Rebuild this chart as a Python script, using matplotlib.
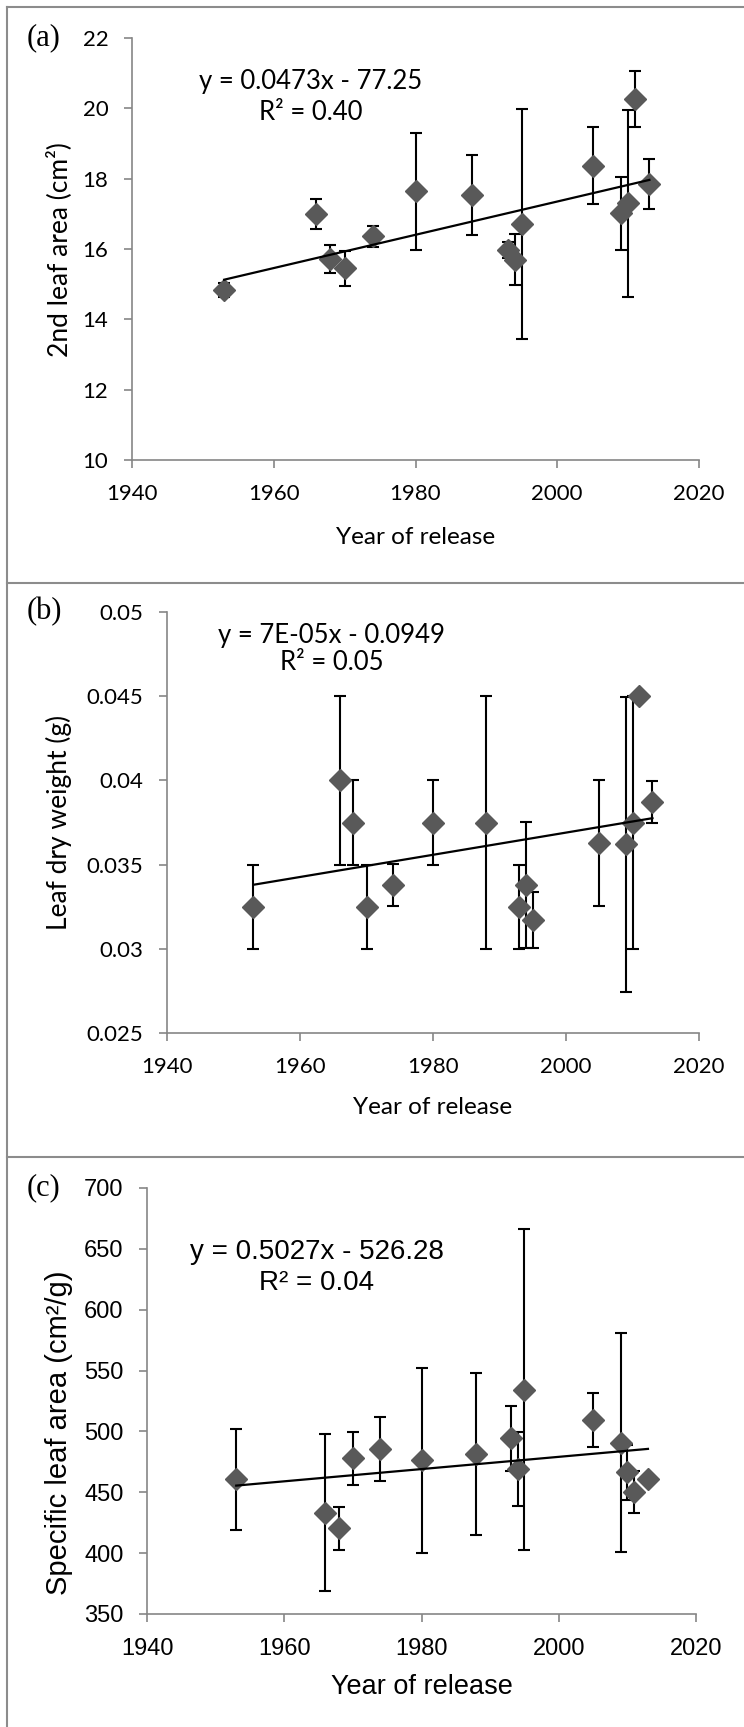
import matplotlib
matplotlib.use('Agg')
import matplotlib.pyplot as plt
from matplotlib.lines import Line2D
from matplotlib.ticker import FuncFormatter
import numpy as np

# cultivars by year of release
years = [1953, 1966, 1968, 1970, 1974, 1980, 1988, 1993, 1994, 1995,
         2005, 2009, 2010, 2011, 2013]

# (a) 2nd leaf area, cm2
leaf_area = [14.83, 17.0, 15.71, 15.45, 16.36, 17.64, 17.54, 15.97, 15.7, 16.7,
             18.37, 17.02, 17.3, 20.26, 17.85]
leaf_area_err = [0.2, 0.42, 0.39, 0.5, 0.3, 1.66, 1.13, 0.23, 0.73, 3.27,
                 1.09, 1.04, 2.66, 0.8, 0.71]

# (b) leaf dry weight, g
dry_weight = [0.0325, 0.04, 0.0375, 0.0325, 0.0338, 0.0375, 0.0375, 0.0325, 0.0338, 0.0317,
              0.0363, 0.0362, 0.0375, 0.045, 0.0387]
dry_weight_err = [0.0025, 0.005, 0.0025, 0.0025, 0.00125, 0.0025, 0.0075, 0.0025, 0.00375, 0.00167,
                  0.00375, 0.00875, 0.0075, 0.0, 0.00125]

# (c) specific leaf area, cm2/g
sla = [460.6, 433.3, 420.6, 477.8, 485.8, 476.2, 481.3, 494.2, 469.5, 534.2,
       509.3, 490.6, 466.3, 450.1, 460.6]
sla_err = [41.7, 64.7, 17.7, 21.8, 26.4, 76.0, 66.4, 26.7, 30.4, 131.8,
           22.1, 90.0, 22.4, 17.3, 3.0]

# linear trends (slope, intercept) and their labels
trends = [(0.0473, -77.25), (6.59e-05, -0.0949), (0.5027, -526.28)]
eq_labels = ['y = 0.0473x - 77.25', 'y = 7E-05x - 0.0949', 'y = 0.5027x - 526.28']
r2_labels = ['R² = 0.40', 'R² = 0.05', 'R² = 0.04']

ylabels = ['2nd leaf area (cm²)', 'Leaf dry weight (g)', 'Specific leaf area (cm²/g)']
tags = ['(a)', '(b)', '(c)']
xticks = [1940, 1960, 1980, 2000, 2020]
yticks = [np.arange(10, 23, 2),
          np.arange(0.025, 0.0501, 0.005),
          np.arange(350, 701, 50)]

W, H = 744, 1727
fig = plt.figure(figsize=(W / 100, H / 100), dpi=100)


def fx(x):
    return x / W


def fy(y):
    return 1 - y / H


# axes boxes in pixels: left, top, right, bottom
boxes = [(132, 38, 699, 460), (167, 612, 699, 1033), (147, 1188, 696, 1614)]
# text anchors in pixels: tag y, equation x/y, r2 y, xlabel y, ylabel y
text_pos = [(38, 311, 81, 112, 537, 250),
            (612, 332, 635, 662, 1108, 822),
            (1188, 317, 1252, 1283, 1687, 1433)]
fonts = [['Lato', 'DejaVu Sans'], ['Lato', 'DejaVu Sans'], ['Liberation Sans', 'DejaVu Sans']]
# font sizes: ticks, equation, x label, y label
sizes = [(16, 18.5, 17.5, 19), (16, 18.5, 17.5, 19), (17, 20, 19.5, 21)]

data = [(leaf_area, leaf_area_err), (dry_weight, dry_weight_err), (sla, sla_err)]
gray = '#868686'

for i in range(3):
    l, t, r, b = boxes[i]
    tick_fs, eq_fs, xl_fs, yl_fs = sizes[i]
    ax = fig.add_axes([fx(l), fy(b), (r - l) / W, (b - t) / H])
    vals, errs = data[i]
    ax.errorbar(years, vals, yerr=errs, fmt='D', color='#595959', ms=11.5,
                ecolor='black', elinewidth=1.5, capsize=4.5, capthick=1.5, zorder=2)
    slope, icpt = trends[i]
    xs = np.array([min(years), max(years)])
    ax.plot(xs, slope * xs + icpt, color='black', lw=1.6, zorder=3)

    ax.set_xlim(1940, 2020)
    ax.set_ylim(yticks[i][0], yticks[i][-1])
    ax.set_xticks(xticks)
    ax.set_yticks(yticks[i])
    ax.yaxis.set_major_formatter(FuncFormatter(lambda v, p: f'{v:g}'))
    for s in ['top', 'right']:
        ax.spines[s].set_visible(False)
    for s in ['left', 'bottom']:
        ax.spines[s].set_color(gray)
        ax.spines[s].set_linewidth(1.2)
    ax.tick_params(axis='both', direction='out', length=6, width=1.2, color=gray,
                   labelsize=tick_fs)
    ax.tick_params(axis='y', pad=11)
    ax.tick_params(axis='x', pad=11.5)
    for lab in ax.get_xticklabels() + ax.get_yticklabels():
        lab.set_family(fonts[i])

    ty, ex, ey, ry, xly, yly = text_pos[i]
    fig.text(fx(27), fy(ty), tags[i], family='Liberation Serif', fontsize=22,
             ha='left', va='center')
    fig.text(fx(ex), fy(ey), eq_labels[i], family=fonts[i], fontsize=eq_fs,
             ha='center', va='center')
    fig.text(fx(ex), fy(ry), r2_labels[i], family=fonts[i], fontsize=eq_fs,
             ha='center', va='center')
    fig.text(fx((l + r) / 2), fy(xly), 'Year of release', family=fonts[i],
             fontsize=xl_fs, ha='center', va='center')
    fig.text(fx(59), fy(yly), ylabels[i], family=fonts[i], fontsize=yl_fs,
             rotation=90, ha='center', va='center')

# panel frame and separators
frame = dict(color='#8c8c8c', lw=1.5)
fig.add_artist(Line2D([fx(7), fx(7)], [0, fy(7)], **frame))
for y in [7, 583, 1157]:
    fig.add_artist(Line2D([fx(7), 1], [fy(y), fy(y)], **frame))

fig.savefig('out.png', dpi=100)
